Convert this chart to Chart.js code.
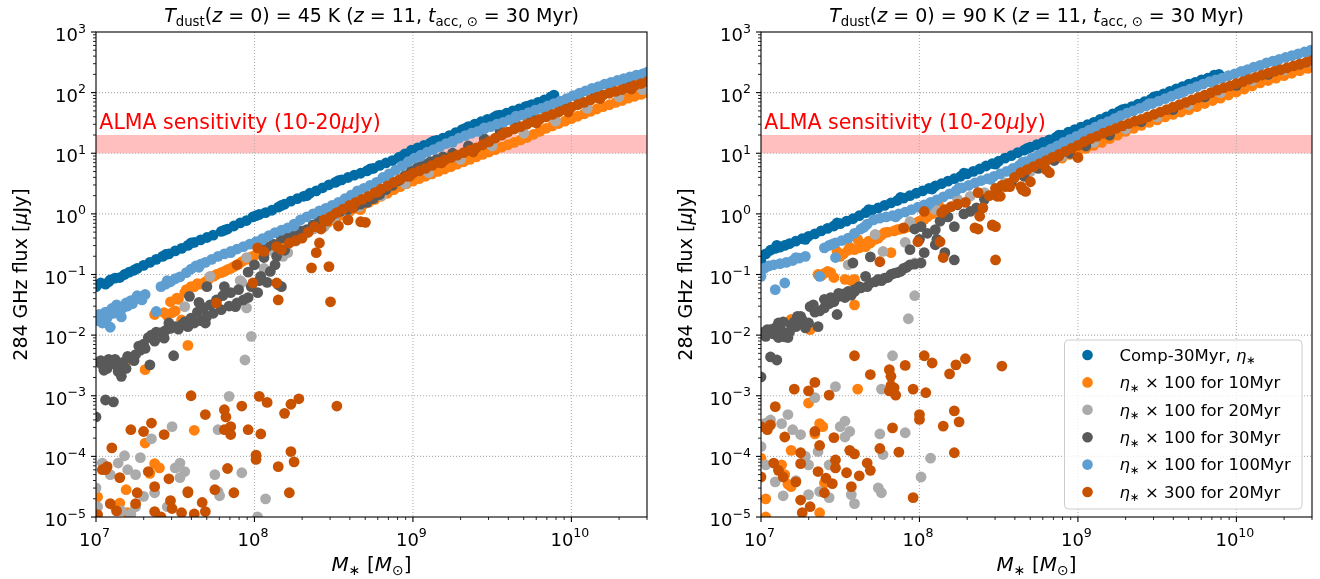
<!DOCTYPE html>
<html><head><meta charset="utf-8">
<script src="https://cdn.jsdelivr.net/npm/chart.js@4.4.0/dist/chart.umd.min.js"></script>
<style>
html,body{margin:0;padding:0;background:#fff;}
#wrap{position:relative;width:1320px;height:579px;overflow:hidden;}
canvas{position:absolute;top:0;}
</style></head>
<body><div id="wrap">
<canvas id="c1" width="660" height="579" style="left:0px"></canvas>
<canvas id="c2" width="660" height="579" style="left:660px"></canvas>
</div>
<script>
// ---------- axis ranges & ticks ----------
const X_MIN = 1e7, X_MAX = 3e10, Y_MIN = 1e-5, Y_MAX = 1e3;
const xMajorExps = [7, 8, 9, 10];
const yMajorExps = [-5, -4, -3, -2, -1, 0, 1, 2, 3];
const almaBand = [10, 20];
const seriesLabels = ["Comp-30Myr, η*", "η* × 100 for 10Myr", "η* × 100 for 20Myr", "η* × 100 for 30Myr", "η* × 100 for 100Myr", "η* × 300 for 20Myr"];
const seriesColors = ["#006BA4", "#FF800E", "#ABABAB", "#595959", "#5F9ED1", "#C85200"];
const panelTemps = ["45", "90"];

// ---------- data: [log10 M*, log10 flux] ----------
// Left panel (T_dust = 45 K)
const L_comp = [[7.00,-1.20],[7.03,-1.14],[7.06,-1.16],[7.09,-1.09],[7.12,-1.06],[7.15,-1.05],[7.18,-1.00],[7.21,-0.96],[7.26,-0.90],[7.30,-0.85],[7.34,-0.80],[7.38,-0.75],[7.42,-0.70],[7.46,-0.66],[7.50,-0.61],[7.54,-0.57],[7.58,-0.52],[7.62,-0.47],[7.66,-0.43],[7.70,-0.39],[7.74,-0.35],[7.79,-0.29],[7.83,-0.25],[7.87,-0.20],[7.91,-0.15],[7.95,-0.11],[7.99,-0.05],[8.03,-0.01],[8.07,0.02],[8.11,0.06],[8.15,0.11],[8.19,0.16],[8.23,0.21],[8.27,0.25],[8.31,0.29],[8.35,0.34],[8.39,0.38],[8.43,0.43],[8.47,0.48],[8.51,0.52],[8.55,0.56],[8.59,0.60],[8.63,0.64],[8.67,0.67],[8.71,0.71],[8.75,0.75],[8.79,0.80],[8.83,0.84],[8.87,0.88],[8.91,0.93],[8.95,0.99],[8.99,1.05],[9.03,1.09],[9.07,1.13],[9.11,1.17],[9.15,1.21],[9.19,1.25],[9.23,1.29],[9.27,1.34],[9.31,1.39],[9.35,1.44],[9.39,1.48],[9.43,1.52],[9.47,1.56],[9.51,1.59],[9.55,1.63],[9.59,1.66],[9.63,1.70],[9.67,1.73],[9.71,1.77],[9.75,1.80],[9.79,1.84],[9.83,1.88],[9.87,1.93],
[7.08,-1.12],[7.24,-0.93],[7.44,-0.67],[7.60,-0.48],[7.81,-0.27],[8.01,-0.03],[8.17,0.14],[8.33,0.30],[8.53,0.55],[8.73,0.74],[8.93,0.95],[9.13,1.20],[9.33,1.41],[9.53,1.62],[9.73,1.78],[9.89,1.96]];
const L_e10 = [[8.40,-0.22],[8.44,-0.16],[8.48,-0.11],[8.52,-0.06],[8.56,-0.01],[8.60,0.04],[8.64,0.09],[8.68,0.14],[8.72,0.19],[8.76,0.24],[8.80,0.29],[8.84,0.34],[8.88,0.40],[8.92,0.45],[8.96,0.50],[9.00,0.54],[9.04,0.58],[9.08,0.62],[9.12,0.66],[9.16,0.70],[9.20,0.74],[9.24,0.78],[9.28,0.82],[9.32,0.86],[9.36,0.90],[9.40,0.94],[9.44,0.98],[9.48,1.02],[9.52,1.06],[9.56,1.10],[9.60,1.14],[9.64,1.18],[9.68,1.22],[9.72,1.26],[9.76,1.31],[9.80,1.36],[9.84,1.41],[9.88,1.45],[9.92,1.49],[9.96,1.53],[10.00,1.57],[10.04,1.61],[10.08,1.65],[10.12,1.69],[10.16,1.73],[10.20,1.77],[10.24,1.80],[10.28,1.84],[10.32,1.87],[10.36,1.91],[10.40,1.94],[10.44,1.97],[10.48,2.00],
[7.20,-2.41],[7.31,-2.57],[7.37,-1.66],[7.43,-1.63],[7.48,-1.63],[7.51,-1.39],[7.52,-1.41],[7.54,-1.75],[7.56,-1.30],[7.58,-2.17],[7.60,-1.20],[7.62,-1.20],[7.66,-1.16],[7.69,-1.12],[7.74,-1.03],[7.79,-0.97],[7.83,-0.92],[7.87,-0.87],[7.92,-0.79],[7.98,-0.71],[8.03,-0.65],[8.08,-0.59],[8.13,-0.56],[8.17,-0.54],[8.21,-0.48],[8.25,-0.43],[8.29,-0.37],[8.33,-0.31],[8.37,-0.25],[8.46,-0.15],[8.59,-0.10],[8.67,0.07],[8.74,0.23],
[7.45,-1.68],[7.50,-1.60],[7.47,-1.45],[7.57,-1.25],[7.64,-1.15],[7.71,-1.08],[7.76,-1.00],[7.81,-0.95],[7.85,-0.90],[7.90,-0.83],[7.95,-0.75],[8.00,-0.69],[8.05,-0.62],[8.10,-0.58],
[7.62,-3.57],[7.31,-3.78],[7.37,-4.12],[7.34,-4.28],[7.40,-4.19],[7.19,-4.55],[7.01,-4.67],[7.12,-4.83],[7.15,-4.77],[7.20,-4.93],[7.00,-4.98]];
const L_e20 = [[8.10,-0.60],[8.21,-0.64],[8.26,-0.45],[8.33,-0.31],[8.38,-0.24],[8.44,-0.21],[8.50,-0.08],[8.58,0.02],[8.66,0.12],[8.80,0.30],[8.95,0.50],[9.10,0.68],[9.30,0.90],[9.50,1.12],[9.70,1.33],[9.90,1.53],[10.10,1.74],[10.30,1.93],[10.45,2.05],
[7.56,-1.53],[7.72,-1.03],[7.92,-1.13],[7.95,-0.72],[7.95,-1.55],[7.98,-2.02],[7.94,-2.41],[7.91,-1.10],[8.06,-0.90],[8.18,-0.70],
[7.84,-3.01],[7.48,-3.51],[7.35,-3.71],[7.77,-3.56],[7.18,-3.99],[7.14,-4.11],[7.04,-4.11],[7.20,-4.22],[7.25,-4.30],[7.53,-4.11],[7.50,-4.19],[7.56,-4.25],[7.53,-4.35],[7.75,-4.30],[7.92,-4.27],[7.77,-4.58],[7.78,-4.65],[7.37,-4.60],[7.30,-4.66],[7.25,-4.83],[7.01,-4.83],[7.00,-4.52],[8.07,-4.70],[8.02,-5.00],[7.45,-4.83],[7.09,-4.30],[7.28,-4.02],[7.22,-4.95],[7.16,-4.90]];
const L_e30 = [[7.00,-3.35],[7.06,-3.07],[7.11,-3.10],[7.02,-2.45],[7.04,-2.49],[7.07,-2.55],[7.10,-2.47],[7.12,-2.40],[7.14,-2.60],[7.16,-2.68],[7.19,-2.55],[7.22,-2.38],[7.25,-2.32],[7.28,-2.25],[7.30,-2.15],[7.33,-2.04],[7.34,-2.49],[7.37,-2.10],[7.41,-1.96],[7.44,-1.92],[7.47,-1.89],[7.49,-2.34],[7.50,-1.86],[7.54,-1.83],[7.58,-1.86],[7.59,-1.36],[7.62,-1.80],[7.65,-1.46],[7.66,-1.76],[7.69,-1.80],[7.70,-1.69],[7.70,-1.20],[7.74,-1.64],[7.79,-1.58],[7.81,-1.20],[7.84,-1.52],[7.88,-1.53],[7.89,-1.47],[7.93,-1.42],[7.96,-1.38],[7.96,-0.96],[8.00,-0.84],[8.02,-1.30],[8.04,-1.03],[8.06,-0.72],[8.08,-1.13],[8.08,-0.54],[8.12,-0.50],[8.13,-0.84],[8.15,-1.17],[8.17,-1.20],[8.17,-0.40],[8.21,-0.36],[8.25,-0.31],[8.29,-0.28],[8.33,-0.26],[8.37,-0.18],[8.41,-0.10],[8.46,-0.04],[8.50,0.00],[8.54,0.04],[8.59,0.07],[8.63,0.12],[8.67,0.16],[8.71,0.19],[8.75,0.25],[8.79,0.32],[8.83,0.40],[8.87,0.47],[8.91,0.55],[8.95,0.63],[8.99,0.71],[9.03,0.77],[9.07,0.82],[9.11,0.86],[9.15,0.90],[9.19,0.94],[9.25,1.00],[9.35,1.12],[9.45,1.24],[9.55,1.36],[9.65,1.47],[9.75,1.57],[9.85,1.67],[9.95,1.76],[10.05,1.86],[10.15,1.95],[10.25,2.03],[10.35,2.12],[10.45,2.20],
[7.03,-2.42],[7.05,-2.58],[7.08,-2.40],[7.13,-2.50],[7.17,-2.45],[7.20,-2.35],[7.24,-2.42],[7.27,-2.18],[7.31,-2.22],[7.35,-2.00],[7.38,-1.95],[7.43,-2.05],[7.46,-1.80],[7.52,-1.90],[7.56,-1.78],[7.60,-1.72],[7.64,-1.62],[7.68,-1.55],[7.72,-1.50],[7.76,-1.42],[7.80,-1.35],[7.85,-1.30],[7.90,-1.25],[7.98,-1.20],[8.03,-1.10],[8.10,-0.95],[8.14,-0.70],[8.19,-0.60]];
const L_e100 = [[7.00,-1.76],[7.03,-1.70],[7.06,-1.62],[7.09,-1.87],[7.10,-1.56],[7.13,-1.50],[7.16,-1.70],[7.19,-1.47],[7.22,-1.43],[7.25,-1.40],[7.28,-1.37],[7.31,-1.33],[7.38,-1.61],[7.41,-1.20],[7.44,-1.16],[7.47,-1.12],[7.50,-1.07],[7.53,-1.04],[7.57,-0.97],[7.60,-0.91],[7.63,-0.86],[7.66,-0.83],[7.69,-0.80],[7.73,-0.75],[7.77,-0.70],[7.81,-0.66],[7.85,-0.62],[7.89,-0.58],[7.93,-0.54],[7.97,-0.50],[8.01,-0.46],[8.05,-0.41],[8.09,-0.36],[8.13,-0.31],[8.17,-0.27],[8.21,-0.23],[8.25,-0.17],[8.29,-0.10],[8.33,-0.05],[8.37,0.00],[8.41,0.05],[8.45,0.09],[8.49,0.14],[8.53,0.19],[8.57,0.25],[8.61,0.31],[8.65,0.36],[8.69,0.42],[8.73,0.47],[8.77,0.52],[8.81,0.60],[8.85,0.66],[8.89,0.72],[8.93,0.79],[8.97,0.86],[9.01,0.92],[9.05,0.97],[9.09,1.02],[9.13,1.06],[9.17,1.11],[9.21,1.16],[9.25,1.20],[9.29,1.25],[9.33,1.29],[9.37,1.33],[9.41,1.36],[9.45,1.40],[9.49,1.44],[9.53,1.48],[9.57,1.51],[9.61,1.55],[9.65,1.59],[9.69,1.63],[9.73,1.67],[9.77,1.71],[9.81,1.74],[9.85,1.78],[9.89,1.82],[9.93,1.86],[9.97,1.90],[10.01,1.95],[10.05,1.99],[10.09,2.03],[10.13,2.07],[10.17,2.10],[10.21,2.14],[10.25,2.17],[10.29,2.20],[10.33,2.23],[10.37,2.26],[10.41,2.29],[10.45,2.31],[10.48,2.34],
[7.45,-1.10],[7.65,-0.88],[7.85,-0.64],[8.05,-0.43],[8.25,-0.20],[8.45,0.07],[8.65,0.38],[8.85,0.63],[9.05,0.95],[9.25,1.18],[9.45,1.42],[9.65,1.61],[9.85,1.76],[10.05,1.97],[10.25,2.15],[10.45,2.30],
[7.02,-1.66],[7.04,-1.80],[7.07,-1.72],[7.11,-1.64],[7.14,-1.58],[7.17,-1.55],[7.20,-1.52],[7.23,-1.48],[7.26,-1.35],[7.29,-1.42]];
const L_e300 = [[8.44,-0.10],[8.48,-0.05],[8.52,0.02],[8.56,0.08],[8.60,0.14],[8.64,0.19],[8.68,0.24],[8.72,0.29],[8.76,0.35],[8.80,0.41],[8.84,0.46],[8.88,0.52],[8.92,0.57],[8.96,0.62],[9.00,0.67],[9.04,0.71],[9.08,0.75],[9.12,0.80],[9.16,0.85],[9.20,0.89],[9.24,0.93],[9.28,0.97],[9.32,1.01],[9.36,1.05],[9.40,1.09],[9.44,1.14],[9.48,1.19],[9.52,1.25],[9.56,1.30],[9.60,1.35],[9.64,1.40],[9.68,1.44],[9.72,1.48],[9.76,1.52],[9.80,1.56],[9.84,1.60],[9.88,1.64],[9.92,1.68],[9.96,1.72],[10.00,1.76],[10.04,1.80],[10.08,1.84],[10.12,1.88],[10.16,1.92],[10.20,1.96],[10.24,1.99],[10.28,2.02],[10.32,2.05],[10.36,2.08],[10.40,2.12],[10.44,2.15],[10.48,2.18],
[8.62,0.10],[8.78,0.36],[8.98,0.62],[9.18,0.84],[9.38,1.02],[9.58,1.34],[9.78,1.50],[9.98,1.68],[10.18,1.90],[10.38,2.06],
[7.76,-1.47],[7.89,-0.84],[7.99,-1.14],[8.02,-0.56],[8.06,-0.62],[8.14,-0.54],[8.14,-1.14],[8.15,-1.42],[8.17,-0.59],[8.22,-0.48],[8.26,-0.44],[8.30,-0.40],[8.34,-0.30],[8.36,-0.89],[8.38,-0.21],[8.39,-0.64],[8.41,-0.48],[8.42,-0.25],[8.47,-0.87],[8.48,-1.45],[8.46,-0.12],[8.53,-0.20],[8.59,-0.10],[8.67,-0.13],[8.70,-0.14],
[7.60,-3.00],[8.03,-3.01],[8.08,-3.11],[8.28,-3.05],[8.23,-3.14],[8.19,-3.29],[8.52,-3.17],[7.92,-3.17],[7.81,-3.23],[7.82,-3.35],[7.69,-3.31],[7.85,-3.51],[7.81,-3.56],[7.85,-3.64],[7.96,-3.56],[8.04,-3.63],[7.35,-3.45],[7.30,-3.59],[7.22,-3.56],[7.43,-3.64],[7.10,-3.86],[8.01,-3.98],[8.01,-4.05],[8.23,-3.92],[8.25,-4.09],[8.15,-4.17],[7.83,-4.20],[7.87,-4.60],[8.22,-4.60],[7.75,-4.55],[7.58,-4.60],[7.46,-4.37],[7.37,-4.50],[7.26,-4.60],[7.25,-4.78],[7.33,-4.25],[7.15,-4.35],[7.06,-4.22],[7.04,-4.22],[7.07,-4.17],[7.09,-4.78],[7.13,-4.90],[7.01,-4.96],[7.37,-4.91],[7.47,-4.73],[7.48,-4.86],[7.54,-4.93],[7.62,-4.95],[7.67,-4.76],[7.69,-4.91],[7.58,-4.58],[7.41,-5.00]];

// Right panel (T_dust = 90 K)
const R_comp = [[7.00,-0.78],[7.03,-0.66],[7.06,-0.60],[7.09,-0.57],[7.12,-0.55],[7.15,-0.52],[7.18,-0.49],[7.22,-0.45],[7.26,-0.41],[7.30,-0.37],[7.34,-0.33],[7.38,-0.28],[7.42,-0.24],[7.46,-0.20],[7.50,-0.16],[7.54,-0.12],[7.58,-0.08],[7.62,-0.03],[7.66,0.02],[7.70,0.06],[7.74,0.10],[7.78,0.14],[7.82,0.18],[7.86,0.22],[7.90,0.26],[7.94,0.30],[7.98,0.34],[8.02,0.38],[8.06,0.42],[8.10,0.46],[8.14,0.50],[8.18,0.54],[8.22,0.58],[8.26,0.62],[8.30,0.66],[8.34,0.70],[8.38,0.74],[8.42,0.79],[8.46,0.83],[8.50,0.87],[8.54,0.92],[8.58,0.96],[8.62,1.01],[8.66,1.05],[8.70,1.10],[8.74,1.14],[8.78,1.18],[8.82,1.22],[8.86,1.26],[8.90,1.30],[8.94,1.35],[8.98,1.39],[9.02,1.43],[9.06,1.47],[9.10,1.51],[9.14,1.56],[9.18,1.60],[9.22,1.65],[9.26,1.69],[9.30,1.73],[9.34,1.77],[9.38,1.81],[9.42,1.85],[9.46,1.89],[9.50,1.94],[9.54,1.98],[9.58,2.02],[9.62,2.06],[9.66,2.10],[9.70,2.14],[9.74,2.17],[9.78,2.21],[9.82,2.24],[9.86,2.27],[9.89,2.30],
[7.10,-0.52],[7.28,-0.42],[7.48,-0.15],[7.68,0.07],[7.88,0.27],[8.08,0.41],[8.28,0.67],[8.48,0.82],[8.68,1.08],[8.88,1.30],[9.08,1.46],[9.28,1.72],[9.48,1.93],[9.68,2.10],[9.86,2.29]];
const R_e10 = [[8.90,0.92],[8.95,0.98],[9.00,1.03],[9.05,1.08],[9.10,1.13],[9.15,1.18],[9.20,1.24],[9.25,1.30],[9.30,1.36],[9.35,1.41],[9.40,1.46],[9.45,1.51],[9.50,1.55],[9.55,1.60],[9.60,1.64],[9.65,1.68],[9.70,1.72],[9.75,1.77],[9.80,1.82],[9.85,1.87],[9.90,1.91],[9.95,1.96],[10.00,2.01],[10.05,2.06],[10.10,2.11],[10.15,2.16],[10.20,2.20],[10.25,2.24],[10.30,2.28],[10.35,2.32],[10.40,2.36],[10.45,2.40],[10.48,2.43],
[7.19,-1.74],[7.21,-1.77],[7.31,-1.91],[7.36,-1.00],[7.40,-0.98],[7.44,-0.97],[7.48,-0.62],[7.50,-0.70],[7.53,-1.08],[7.56,-0.55],[7.59,-1.08],[7.59,-0.59],[7.59,-1.50],[7.61,-0.42],[7.66,-0.54],[7.69,-0.48],[7.74,-0.40],[7.78,-0.31],[7.82,-0.64],[7.86,-0.26],[7.90,-0.24],[7.94,-0.21],[7.98,-0.15],[8.03,-0.09],[8.08,0.00],[8.12,0.15],
[7.38,-1.02],[7.42,-0.95],[7.46,-1.05],[7.52,-0.66],[7.55,-0.60],[7.57,-1.10],[7.62,-0.56],[7.64,-0.50],[7.68,-0.45],[7.72,-0.42],[7.76,-0.35],[7.80,-0.30],[7.84,-0.28],[7.88,-0.25],[7.92,-0.22],[7.96,-0.18],[8.00,-0.12],[8.05,-0.05],[8.10,0.08],
[7.61,-2.89],[7.30,-3.12],[7.37,-3.46],[7.34,-3.63],[7.39,-3.51],[7.19,-3.90],[7.03,-4.70],[7.03,-5.00],[7.19,-4.50],[7.15,-4.30],[7.13,-4.14],[7.40,-4.44],[7.37,-4.93],[7.00,-4.03],[7.17,-4.46]];
const R_e20 = [[7.55,-0.84],[7.72,-0.34],[7.77,-0.62],[7.91,-0.47],[7.94,-0.13],[7.97,-0.81],[8.10,0.07],[8.16,-0.04],[8.24,0.24],[8.32,0.29],[8.41,0.35],[8.54,0.51],[7.97,-1.35],[7.93,-1.73],[7.83,-2.34],[8.70,0.70],[8.90,0.95],[9.10,1.18],[9.30,1.40],[9.50,1.60],[9.70,1.80],[9.90,2.00],[10.10,2.20],[10.30,2.37],[10.45,2.50],
[7.47,-2.85],[7.34,-3.03],[7.76,-2.89],[7.17,-3.31],[7.13,-3.46],[7.03,-3.45],[7.20,-3.56],[7.25,-3.64],[7.50,-3.51],[7.53,-3.42],[7.56,-3.59],[7.53,-3.68],[7.75,-3.63],[7.91,-3.61],[7.77,-3.97],[7.36,-3.92],[7.28,-4.00],[7.30,-4.14],[7.09,-4.42],[7.03,-4.14],[7.43,-4.14],[7.14,-4.65],[7.30,-4.63],[7.37,-4.58],[7.43,-4.68],[7.57,-4.63],[7.59,-4.78],[7.74,-4.52],[7.76,-4.60],[8.01,-4.34],[8.07,-4.03],[7.00,-3.84],[7.06,-3.40],[7.22,-4.40]];
const R_e30 = [[7.00,-2.69],[7.04,-1.91],[7.06,-2.36],[7.10,-2.41],[7.02,-1.95],[7.06,-1.91],[7.08,-1.98],[7.11,-1.80],[7.11,-2.04],[7.13,-1.93],[7.15,-2.03],[7.17,-2.04],[7.19,-1.83],[7.21,-1.78],[7.23,-1.69],[7.25,-1.69],[7.28,-1.88],[7.30,-1.80],[7.31,-1.53],[7.33,-1.50],[7.36,-1.86],[7.37,-1.60],[7.40,-1.55],[7.40,-1.41],[7.44,-1.38],[7.48,-1.66],[7.49,-1.36],[7.49,-1.31],[7.53,-1.38],[7.55,-1.28],[7.59,-1.28],[7.59,-1.25],[7.62,-1.20],[7.66,-1.03],[7.67,-1.20],[7.69,-1.14],[7.72,-1.12],[7.74,-1.08],[7.78,-1.06],[7.82,-1.00],[7.86,-0.97],[7.90,-0.90],[7.94,-0.84],[7.58,-0.81],[7.69,-0.71],[7.94,-0.59],[8.01,-0.81],[8.03,-0.64],[8.10,-0.51],[8.16,-0.64],[8.01,-0.21],[8.10,-0.26],[8.22,-0.21],[8.24,0.15],[8.32,0.04],[8.41,0.24],[8.49,0.40],[8.58,0.51],[8.66,0.62],[8.75,0.75],[8.85,0.88],[8.95,1.00],[9.05,1.12],[9.20,1.30],[9.40,1.52],[9.60,1.72],[9.80,1.93],[10.00,2.12],[10.20,2.30],[10.40,2.47],
[7.97,-0.25],[8.05,-0.32],[8.13,-0.12],[8.18,-0.05],[8.28,0.00],[8.36,0.10],[8.00,-0.42],[8.11,-0.42],[8.22,-0.76],
[7.03,-2.02],[7.09,-1.88],[7.14,-1.78],[7.18,-1.95],[7.22,-1.86],[7.26,-1.75],[7.34,-1.62],[7.43,-1.48],[7.46,-1.45],[7.52,-1.32],[7.57,-1.34],[7.63,-1.22],[7.76,-1.10],[7.80,-1.05],[7.84,-0.98],[7.88,-0.95],[7.92,-0.88],[7.97,-0.83]];
const R_e100 = [[7.00,-1.03],[7.02,-0.90],[7.05,-0.86],[7.09,-1.25],[7.08,-0.84],[7.12,-0.82],[7.15,-1.14],[7.16,-0.80],[7.20,-0.77],[7.24,-0.73],[7.28,-0.70],[7.37,-1.03],[7.40,-0.56],[7.43,-0.52],[7.47,-0.72],[7.47,-0.48],[7.51,-0.44],[7.55,-0.40],[7.59,-0.32],[7.63,-0.25],[7.67,-0.17],[7.71,-0.10],[7.75,-0.07],[7.79,-0.05],[7.83,-0.03],[7.87,0.00],[7.91,0.03],[7.95,0.07],[7.99,0.11],[8.03,0.15],[8.07,0.19],[8.11,0.23],[8.15,0.28],[8.19,0.33],[8.23,0.38],[8.27,0.43],[8.31,0.47],[8.35,0.51],[8.39,0.55],[8.43,0.58],[8.47,0.62],[8.51,0.66],[8.55,0.70],[8.59,0.75],[8.63,0.80],[8.67,0.86],[8.71,0.92],[8.75,0.97],[8.79,1.02],[8.83,1.07],[8.87,1.12],[8.91,1.18],[8.95,1.23],[8.99,1.28],[9.03,1.33],[9.07,1.38],[9.11,1.43],[9.15,1.48],[9.19,1.52],[9.23,1.57],[9.27,1.62],[9.31,1.66],[9.35,1.70],[9.39,1.74],[9.43,1.78],[9.47,1.82],[9.51,1.86],[9.55,1.90],[9.59,1.94],[9.63,1.98],[9.67,2.02],[9.71,2.06],[9.75,2.10],[9.79,2.14],[9.83,2.18],[9.87,2.21],[9.91,2.24],[9.95,2.28],[9.99,2.31],[10.03,2.35],[10.07,2.38],[10.11,2.42],[10.15,2.45],[10.19,2.49],[10.23,2.52],[10.27,2.55],[10.31,2.58],[10.35,2.61],[10.39,2.64],[10.43,2.67],[10.47,2.70],
[7.22,-0.72],[7.45,-0.50],[7.65,-0.22],[7.85,-0.05],[8.05,0.13],[8.25,0.43],[8.45,0.57],[8.65,0.85],[8.85,1.08],[9.05,1.34],[9.25,1.58],[9.45,1.82],[9.65,2.00],[9.85,2.17],[10.05,2.34],[10.25,2.51],[10.45,2.66]];
const R_e300 = [[8.44,0.30],[8.48,0.42],[8.52,0.47],[8.56,0.50],[8.60,0.60],[8.64,0.68],[8.68,0.73],[8.72,0.78],[8.76,0.83],[8.80,0.88],[8.84,0.93],[8.88,0.98],[8.92,1.03],[8.96,1.08],[9.00,1.13],[9.04,1.19],[9.08,1.24],[9.12,1.28],[9.16,1.33],[9.20,1.37],[9.24,1.41],[9.28,1.45],[9.32,1.49],[9.36,1.53],[9.40,1.56],[9.44,1.60],[9.48,1.64],[9.52,1.68],[9.56,1.72],[9.60,1.76],[9.64,1.80],[9.68,1.84],[9.72,1.88],[9.76,1.92],[9.80,1.96],[9.84,2.00],[9.88,2.04],[9.92,2.08],[9.96,2.11],[10.00,2.15],[10.04,2.18],[10.08,2.22],[10.12,2.25],[10.16,2.29],[10.20,2.32],[10.24,2.35],[10.28,2.38],[10.32,2.41],[10.36,2.44],[10.40,2.47],[10.44,2.50],[10.48,2.53],
[8.57,0.45],[8.65,0.40],[8.49,0.29],[8.46,-0.19],[8.64,0.45],[8.54,0.45],[8.37,0.35],[8.29,0.19],[8.40,0.10],[8.38,-0.04],[8.46,-0.18],[8.35,-0.23],[8.16,0.07],[8.14,0.02],[8.03,0.04],[7.99,-0.46],[8.13,-0.46],[8.15,-0.72],[7.90,-0.23],[7.75,-0.79],[8.48,-0.76],[8.67,0.37],[8.70,0.53],[8.80,0.73],[8.88,0.95],[9.00,0.93],[8.82,0.68],[8.37,-0.25],[8.48,-0.21],[8.51,0.29],[8.20,0.12],[8.24,0.16],
[7.59,-2.34],[8.03,-2.34],[8.08,-2.46],[7.91,-2.50],[7.81,-2.57],[7.82,-2.68],[7.69,-2.65],[8.19,-2.64],[8.23,-2.49],[8.29,-2.39],[8.52,-2.51],[7.34,-2.78],[7.30,-2.92],[7.21,-2.89],[7.43,-2.99],[7.82,-2.83],[7.84,-2.87],[7.81,-2.92],[7.85,-2.99],[7.96,-2.89],[8.04,-2.95],[7.09,-3.18],[7.06,-3.48],[7.04,-3.56],[7.00,-3.51],[7.15,-3.68],[7.34,-3.59],[7.37,-3.82],[7.46,-3.69],[8.00,-3.31],[8.00,-3.39],[8.15,-3.50],[8.22,-3.25],[8.25,-3.43],[7.83,-3.53],[7.75,-3.87],[7.56,-3.90],[7.59,-3.96],[7.87,-3.93],[8.22,-3.94],[7.25,-3.94],[7.25,-4.12],[7.36,-4.25],[7.47,-4.06],[7.47,-4.19],[7.54,-4.27],[7.67,-4.11],[7.69,-4.23],[7.08,-4.11],[7.11,-4.23],[7.14,-4.34],[7.00,-4.34],[7.22,-4.42],[7.41,-4.36],[7.45,-4.45],[7.57,-4.50],[7.62,-4.32],[7.40,-4.60],[7.25,-4.72],[7.31,-4.83],[7.26,-4.93],[7.96,-4.68]];

const leftSeries = [L_comp, L_e10, L_e20, L_e30, L_e100, L_e300];
const rightSeries = [R_comp, R_e10, R_e20, R_e30, R_e100, R_e300];

// ---------- text helpers ----------
const FONT = '"DejaVu Sans"';
function fontFor(s, size) {
  const sz = (s.sub || s.sup) ? size * 0.7 : size;
  return (s.i ? 'italic ' : '') + sz.toFixed(2) + 'px ' + FONT;
}
function richWidth(ctx, segs, size) {
  let w = 0;
  for (const s of segs) { ctx.font = fontFor(s, size); w += ctx.measureText(s.t).width; }
  return w;
}
function drawRich(ctx, segs, x, y, size, align) {
  const w = richWidth(ctx, segs, size);
  let cx = align === 'center' ? x - w / 2 : (align === 'right' ? x - w : x);
  ctx.textAlign = 'left'; ctx.textBaseline = 'alphabetic';
  for (const s of segs) {
    ctx.font = fontFor(s, size);
    const dy = s.sub ? size * 0.22 : (s.sup ? -size * 0.47 : 0);
    ctx.fillText(s.t, cx, y + dy);
    cx += ctx.measureText(s.t).width;
  }
  return w;
}
function expSegs(e) { return [{t: '10'}, {t: (e < 0 ? '\u2212' + (-e) : String(e)), sup: 1}]; }
function labelSegs(label) {
  if (label.startsWith('Comp')) return [{t: 'Comp-30Myr, '}, {t: 'η', i: 1}, {t: '∗', sub: 1}];
  const rest = label.replace('η*', '');
  return [{t: 'η', i: 1}, {t: '∗', sub: 1}, {t: rest}];
}
function titleSegs(temp) {
  return [{t: 'T', i: 1}, {t: 'dust', sub: 1}, {t: '('}, {t: 'z', i: 1}, {t: ' = 0) = ' + temp + ' K ('},
          {t: 'z', i: 1}, {t: ' = 11, '}, {t: 't', i: 1}, {t: 'acc, ⊙', sub: 1}, {t: ' = 30 Myr)'}];
}
const almaSegs = [{t: 'ALMA sensitivity (10-20'}, {t: 'μ', i: 1}, {t: 'Jy)'}];

// ---------- decoration plugin ----------
function deco(panelIdx, showLegend) {
  return {
    id: 'deco' + panelIdx,
    beforeDatasetsDraw(chart) {
      const {ctx, chartArea: a, scales: {x, y}} = chart;
      ctx.save();
      const yb1 = y.getPixelForValue(almaBand[1]), yb0 = y.getPixelForValue(almaBand[0]);
      ctx.fillStyle = 'rgba(255,0,0,0.25)';
      ctx.fillRect(a.left, yb1, a.right - a.left, yb0 - yb1);
      ctx.strokeStyle = '#b0b0b0'; ctx.lineWidth = 1.1; ctx.setLineDash([1.1, 1.9]);
      for (const e of xMajorExps) {
        const px = x.getPixelForValue(Math.pow(10, e));
        if (px <= a.left + 1 || px >= a.right - 1) continue;
        ctx.beginPath(); ctx.moveTo(px, a.top); ctx.lineTo(px, a.bottom); ctx.stroke();
      }
      for (const e of yMajorExps) {
        const py = y.getPixelForValue(Math.pow(10, e));
        if (py <= a.top + 1 || py >= a.bottom - 1) continue;
        ctx.beginPath(); ctx.moveTo(a.left, py); ctx.lineTo(a.right, py); ctx.stroke();
      }
      ctx.restore();
    },
    afterDatasetsDraw(chart) {
      const {ctx, chartArea: a, scales: {x, y}} = chart;
      ctx.save();
      // ALMA label
      ctx.fillStyle = '#ff0000';
      drawRich(ctx, almaSegs, x.getPixelForValue(1.05e7), y.getPixelForValue(25), 20.5, 'left');
      // spines
      ctx.strokeStyle = '#000'; ctx.lineWidth = 1.1; ctx.setLineDash([]);
      ctx.strokeRect(a.left, a.top, a.right - a.left, a.bottom - a.top);
      // ticks
      ctx.fillStyle = '#000';
      for (let e = 7; e <= 10; e++) {
        for (let k = 1; k <= 9; k++) {
          const v = k * Math.pow(10, e);
          if (v > X_MAX) continue;
          const px = x.getPixelForValue(v);
          const len = k === 1 ? 5 : 3;
          ctx.lineWidth = k === 1 ? 1.1 : 0.85;
          ctx.beginPath(); ctx.moveTo(px, a.bottom); ctx.lineTo(px, a.bottom + len); ctx.stroke();
        }
      }
      for (let e = -5; e <= 3; e++) {
        for (let k = 1; k <= 9; k++) {
          const v = k * Math.pow(10, e);
          if (v > Y_MAX) continue;
          const py = y.getPixelForValue(v);
          const len = k === 1 ? 5 : 3;
          ctx.lineWidth = k === 1 ? 1.1 : 0.85;
          ctx.beginPath(); ctx.moveTo(a.left, py); ctx.lineTo(a.left - len, py); ctx.stroke();
        }
      }
      // tick labels
      const TS = 18;
      for (const e of xMajorExps) {
        const px = x.getPixelForValue(Math.pow(10, e));
        drawRich(ctx, expSegs(e), px - 1.5, a.bottom + 28.5, TS, 'center');
      }
      for (const e of yMajorExps) {
        const py = y.getPixelForValue(Math.pow(10, e));
        drawRich(ctx, expSegs(e), a.left - 10, py + 9, TS, 'right');
      }
      // axis labels
      drawRich(ctx, [{t: 'M', i: 1}, {t: '∗', sub: 1}, {t: ' ['}, {t: 'M', i: 1}, {t: '⊙', sub: 1}, {t: ']'}],
               (a.left + a.right) / 2, 571, 20, 'center');
      ctx.save();
      ctx.translate(a.left - 69, (a.top + a.bottom) / 2);
      ctx.rotate(-Math.PI / 2);
      drawRich(ctx, [{t: '284 GHz flux ['}, {t: 'μ', i: 1}, {t: 'Jy]'}], 0, 0, 19, 'center');
      ctx.restore();
      // title
      drawRich(ctx, titleSegs(panelTemps[panelIdx]), (a.left + a.right) / 2, 22, 19, 'center');
      // legend
      if (showLegend) {
        const bx = a.right - 247.5, by = 340, bw = 237.5, bh = 169, r = 4;
        ctx.beginPath();
        ctx.moveTo(bx + r, by); ctx.lineTo(bx + bw - r, by); ctx.arcTo(bx + bw, by, bx + bw, by + r, r);
        ctx.lineTo(bx + bw, by + bh - r); ctx.arcTo(bx + bw, by + bh, bx + bw - r, by + bh, r);
        ctx.lineTo(bx + r, by + bh); ctx.arcTo(bx, by + bh, bx, by + bh - r, r);
        ctx.lineTo(bx, by + r); ctx.arcTo(bx, by, bx + r, by, r); ctx.closePath();
        ctx.fillStyle = 'rgba(255,255,255,0.8)'; ctx.fill();
        ctx.strokeStyle = '#cccccc'; ctx.lineWidth = 1; ctx.stroke();
        for (let i = 0; i < seriesLabels.length; i++) {
          const cy = by + 15 + i * 27.4;
          ctx.fillStyle = seriesColors[i];
          ctx.beginPath(); ctx.arc(bx + 23, cy, 5.3, 0, Math.PI * 2); ctx.fill();
          ctx.fillStyle = '#000';
          drawRich(ctx, labelSegs(seriesLabels[i]), bx + 55, cy + 5.8, 16.5, 'left');
        }
      }
      ctx.restore();
    }
  };
}

function buildChart(canvasId, series, pad, panelIdx, showLegend) {
  const datasets = series.map((arr, i) => ({
    label: seriesLabels[i],
    data: arr.map(p => ({x: Math.pow(10, p[0]), y: Math.pow(10, p[1])})),
    pointBackgroundColor: seriesColors[i],
    backgroundColor: seriesColors[i],
    pointBorderWidth: 0,
    pointRadius: 5.4,
    pointHoverRadius: 5.4,
    showLine: false,
    order: series.length - 1 - i,
    clip: 0
  }));
  return new Chart(document.getElementById(canvasId), {
    type: 'scatter',
    data: {datasets},
    options: {
      responsive: false, animation: false, events: [], devicePixelRatio: 1,
      layout: {padding: pad},
      plugins: {legend: {display: false}, tooltip: {enabled: false}, title: {display: false}},
      scales: {
        x: {type: 'logarithmic', min: X_MIN, max: X_MAX, display: false},
        y: {type: 'logarithmic', min: Y_MIN, max: Y_MAX, display: false}
      }
    },
    plugins: [deco(panelIdx, showLegend)]
  });
}

buildChart('c1', leftSeries, {left: 96, right: 13, top: 32, bottom: 62}, 0, false);
buildChart('c2', rightSeries, {left: 101, right: 8, top: 32, bottom: 62}, 1, true);
</script>
</body></html>
